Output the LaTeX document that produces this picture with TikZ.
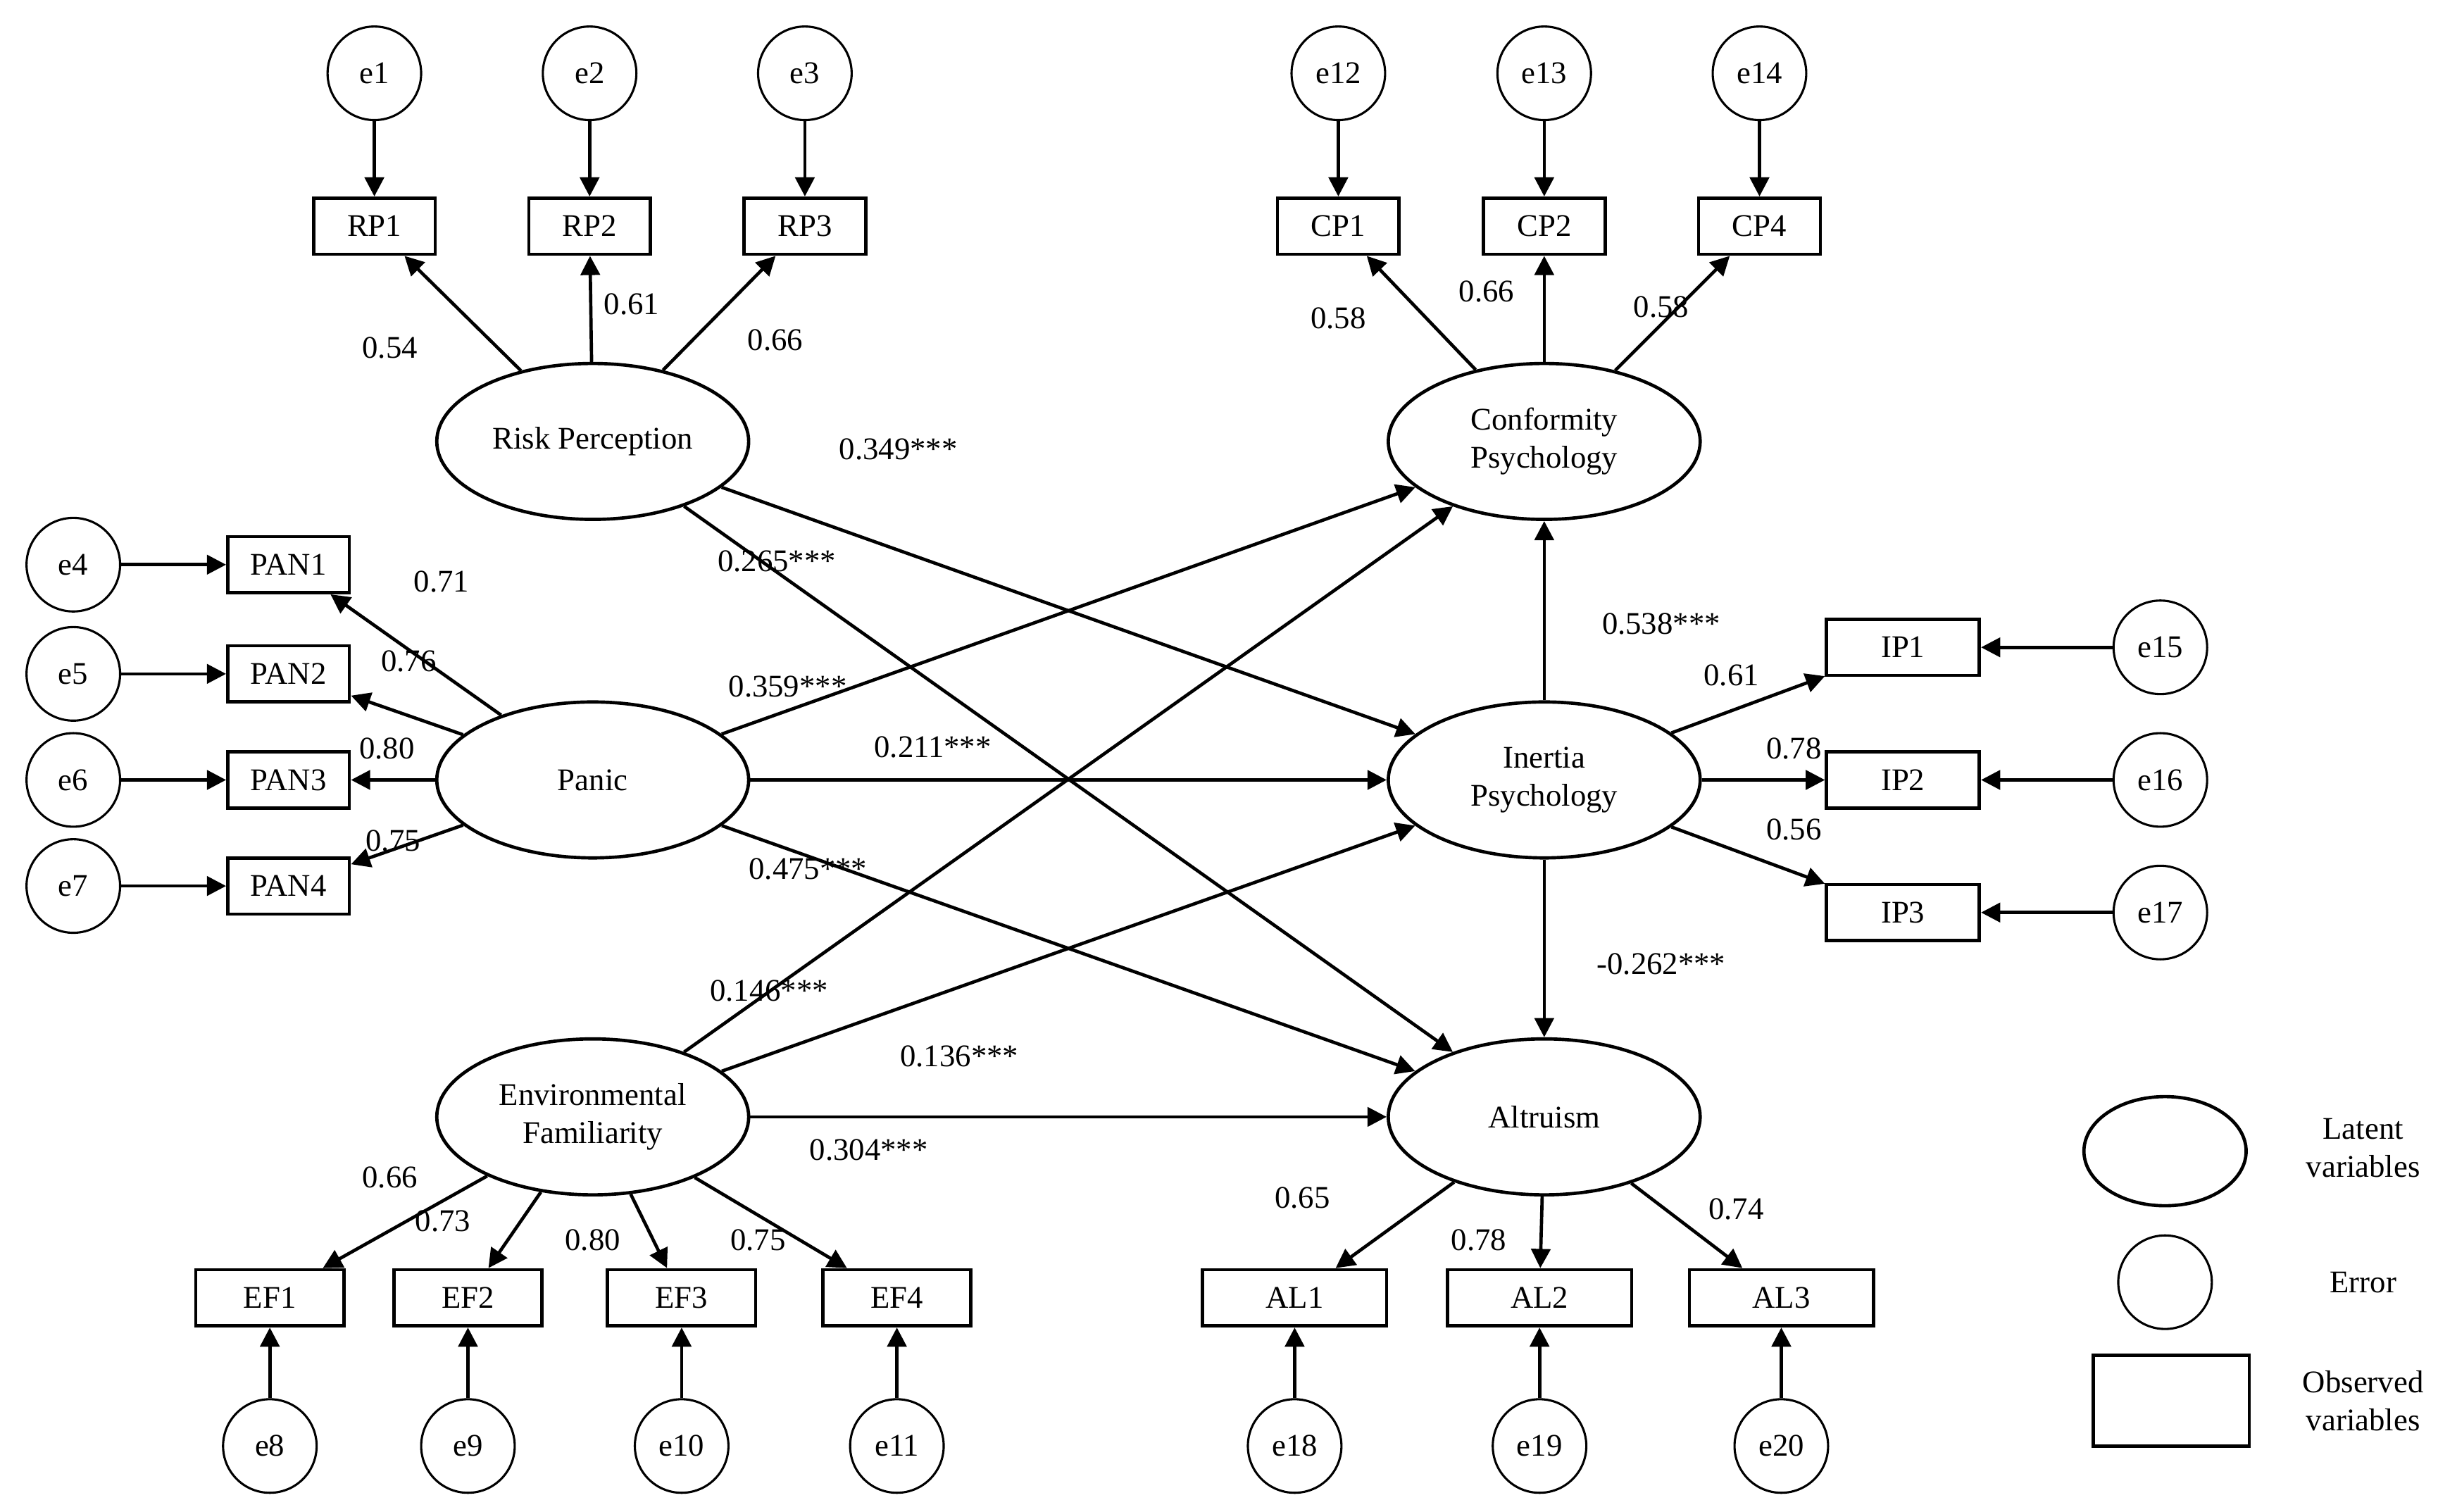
\documentclass[tikz,border=0pt]{standalone}
\usepackage{fontspec}
\setmainfont{Liberation Serif}
\usetikzlibrary{arrows.meta,shapes.geometric}
\begin{document}
\begin{tikzpicture}[x=0.02cm,y=-0.02cm,
  every node/.style={font=\fontsize{11.5}{14}\selectfont},
  lat/.style={draw,ellipse,line width=1.2pt,minimum width=4cm,minimum height=2cm,align=center,inner sep=0pt},
  err/.style={draw,circle,line width=0.8pt,minimum size=1.2cm,inner sep=0pt},
  obs/.style={draw,rectangle,line width=1.2pt,minimum width=1.56cm,minimum height=0.72cm,inner sep=1pt},
  arr/.style={line width=1.2pt,-{Triangle[length=7pt,width=7pt]}},
  lab/.style={inner sep=1pt}]
\useasboundingbox (0,0) rectangle (1563,969);
% latent
\node[lat] (rp) at (380,283) {Risk Perception};
\node[lat] (pa) at (380,500) {Panic};
\node[lat] (ef) at (380,716) {Environmental\\Familiarity};
\node[lat] (cp) at (990,283) {Conformity\\Psychology};
\node[lat] (ip) at (990,500) {Inertia\\Psychology};
\node[lat] (al) at (990,716) {Altruism};
% RP
\foreach \i/\x in {1/240,2/378,3/516}{
  \node[err] (e\i) at (\x,47) {e\i};
  \node[obs] (rp\i) at (\x,145) {RP\i};
  \draw[arr] (e\i) -- (rp\i);
  \draw[arr] (rp) -- (rp\i);}
% CP
\foreach \i/\n/\x in {12/1/858,13/2/990,14/4/1128}{
  \node[err] (e\i) at (\x,47) {e\i};
  \node[obs] (cp\n) at (\x,145) {CP\n};
  \draw[arr] (e\i) -- (cp\n);
  \draw[arr] (cp) -- (cp\n);}
% PAN
\foreach \i/\n/\y in {4/1/362,5/2/432,6/3/500,7/4/568}{
  \node[err] (e\i) at (47,\y) {e\i};
  \node[obs] (pan\n) at (185,\y) {PAN\n};
  \draw[arr] (e\i) -- (pan\n);
  \draw[arr] (pa) -- (pan\n);}
% IP
\foreach \i/\n/\y in {15/1/415,16/2/500,17/3/585}{
  \node[err] (e\i) at (1385,\y) {e\i};
  \node[obs,minimum width=1.96cm] (ipb\n) at (1220,\y) {IP\n};
  \draw[arr] (e\i) -- (ipb\n);
  \draw[arr] (ip) -- (ipb\n);}
% EF
\foreach \i/\n/\x in {8/1/173,9/2/300,10/3/437,11/4/575}{
  \node[err] (e\i) at (\x,927) {e\i};
  \node[obs,minimum width=1.9cm] (efb\n) at (\x,832) {EF\n};
  \draw[arr] (e\i) -- (efb\n);
  \draw[arr] (ef) -- (efb\n);}
% AL
\foreach \i/\n/\x in {18/1/830,19/2/987,20/3/1142}{
  \node[err] (e\i) at (\x,927) {e\i};
  \node[obs,minimum width=2.36cm] (alb\n) at (\x,832) {AL\n};
  \draw[arr] (e\i) -- (alb\n);
  \draw[arr] (al) -- (alb\n);}
% structural
\draw[arr] (rp) -- (ip);
\draw[arr] (rp) -- (al);
\draw[arr] (pa) -- (cp);
\draw[arr] (pa) -- (ip);
\draw[arr] (pa) -- (al);
\draw[arr] (ef) -- (cp);
\draw[arr] (ef) -- (ip);
\draw[arr] (ef) -- (al);
\draw[arr] (ip) -- (cp);
\draw[arr] (ip) -- (al);
% loading labels
\node[lab] at (250,223) {0.54};
\node[lab] at (405,195) {0.61};
\node[lab] at (497,218) {0.66};
\node[lab] at (858,204) {0.58};
\node[lab] at (953,187) {0.66};
\node[lab] at (1065,197) {0.58};
\node[lab] at (283,373) {0.71};
\node[lab] at (262,424) {0.76};
\node[lab] at (248,480) {0.80};
\node[lab] at (252,539) {0.75};
\node[lab] at (1110,433) {0.61};
\node[lab] at (1150,480) {0.78};
\node[lab] at (1150,532) {0.56};
\node[lab] at (250,755) {0.66};
\node[lab] at (284,783) {0.73};
\node[lab] at (380,795) {0.80};
\node[lab] at (486,795) {0.75};
\node[lab] at (835,768) {0.65};
\node[lab] at (948,795) {0.78};
\node[lab] at (1113,775) {0.74};
% path labels
\node[lab] at (576,288) {0.349***};
\node[lab] at (498,360) {0.265***};
\node[lab] at (505,440) {0.359***};
\node[lab] at (598,479) {0.211***};
\node[lab] at (518,557) {0.475***};
\node[lab] at (493,635) {0.146***};
\node[lab] at (615,677) {0.136***};
\node[lab] at (557,737) {0.304***};
\node[lab] at (1065,400) {0.538***};
\node[lab] at (1065,618) {-0.262***};
% legend
\node[lat,minimum width=2.08cm,minimum height=1.4cm] (lg1) at (1388,738) {};
\node[err] (lg2) at (1388,822) {};
\node[obs,minimum width=2cm,minimum height=1.16cm] (lg3) at (1392,898) {};
\node[align=center] (lt1) at (1515,736) {Latent\\variables};
\node (lt2) at (1515,822) {Error};
\node[align=center] (lt3) at (1515,898) {Observed\\variables};
\end{tikzpicture}
\end{document}
